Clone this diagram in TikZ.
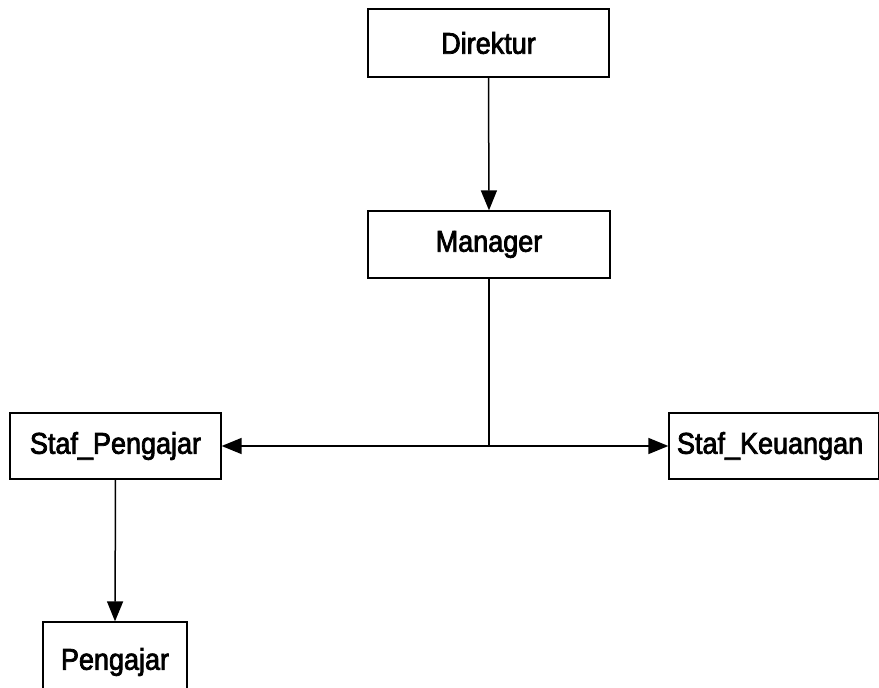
\documentclass[tikz,border=0pt]{standalone}
\usepackage{fontspec}
\setmainfont{Liberation Sans}
\newfontfamily\boxfont[FakeStretch=0.9,FakeBold=2.5]{Liberation Sans}
\usetikzlibrary{arrows.meta}
\begin{document}
\begin{tikzpicture}[x=1pt,y=-1pt,
  unit/.style={draw=black, line width=1.3pt, fill=white, inner sep=0pt,
    font=\boxfont\fontsize{30}{34}\selectfont, text=black},
  link/.style={line width=1.5pt, -{Triangle[length=20pt,width=16pt]}}]
  \useasboundingbox (0,0) rectangle (879,688);
  % organisation units
  \node[unit, minimum width=241pt, minimum height=68pt] (dir) at (488.5,43) {\raisebox{-3pt}{Direktur}};
  \node[unit, minimum width=242pt, minimum height=67pt] (mgr) at (489,244.5) {\raisebox{-2pt}{Manager}};
  \node[unit, minimum width=211pt, minimum height=66pt] (spj) at (115.5,446) {Staf\_Pengajar};
  \node[unit, minimum width=210pt, minimum height=66pt, text width=194pt, align=left] (sku) at (774,446) {Staf\_Keuangan};
  \node[unit, minimum width=144pt, minimum height=80pt] (pgj) at (115,662) {Pengajar};
  % reporting lines
  \coordinate (split) at (mgr.south |- spj.east);
  \draw[link] (dir.south) -- (mgr.north);
  \draw[line width=1.5pt] (mgr.south) -- (split);
  \draw[link] (split) -- (spj.east);
  \draw[link] (split) -- (sku.west);
  \draw[link] (spj.south) -- (pgj.north);
\end{tikzpicture}
\end{document}
